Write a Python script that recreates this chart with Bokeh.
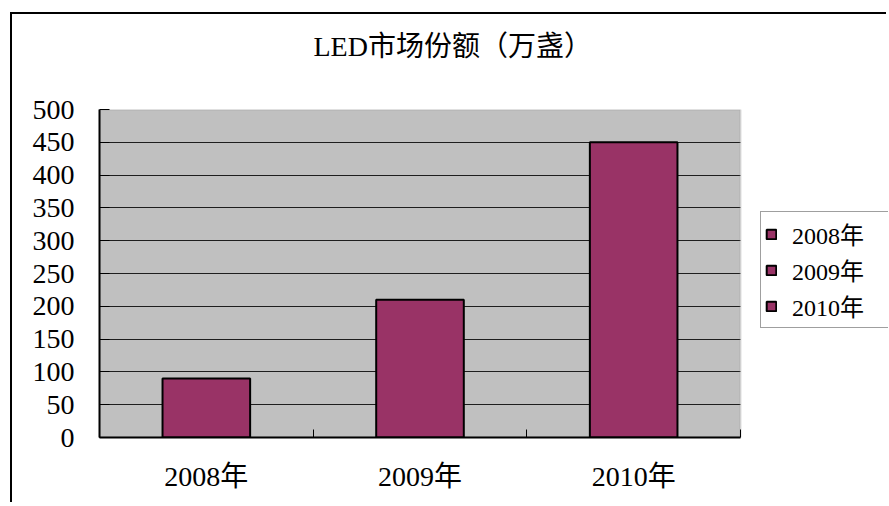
from bokeh.plotting import figure
from bokeh.models import (Range1d, FixedTicker, Legend, LegendItem, ColumnDataSource,
                          BoxAnnotation, Title)
from bokeh.embed import file_html
from bokeh.resources import INLINE

# ---- data ----
categories = ["2008年", "2009年", "2010年"]
values = [90, 210, 450]
y_ticks = [0, 50, 100, 150, 200, 250, 300, 350, 400, 450, 500]
title_text = "LED市场份额（万盏）"

FONT = "Liberation Serif, Noto Sans CJK SC"
BAR = "#993366"

n = len(categories)
xpos = [i + 0.5 for i in range(n)]
boundaries = list(range(n + 1))

# layout geometry (pixels)
W, H = 876, 490
FL, FT, FB = 87, 95, 67          # frame left / top / bottom borders
PLOT_W = 641                      # width of the grey plot area
frame_w = W - FL
x_end = n * frame_w / PLOT_W      # frame extends past the plot area to hold the legend

p = figure(width=W, height=H, output_backend="svg", toolbar_location=None,
           x_range=Range1d(0, x_end), y_range=Range1d(0, 500),
           min_border_left=FL, min_border_right=0, min_border_top=FT,
           min_border_bottom=FB)
p.margin = (12, 0, 0, 10)
p.styles = {"border-top": "2px solid #000", "border-left": "2px solid #000"}

p.background_fill_color = "white"
p.border_fill_color = "white"
p.outline_line_color = None

# grey plot area
p.add_layout(BoxAnnotation(left=0, right=n, bottom=0, top=500,
                           fill_color="#C0C0C0", fill_alpha=1,
                           line_color=None, level="image"))
p.xgrid.visible = False
p.ygrid.ticker = FixedTicker(ticks=y_ticks)
p.ygrid.grid_line_color = "#1e1e1e"
p.ygrid.grid_line_width = 1
# white mask to the right of the plot area (hides grid lines there)
p.add_layout(BoxAnnotation(left=n, fill_color="white", fill_alpha=1,
                           line_color=None, level="underlay"))
# grey border of the plot area
p.add_layout(BoxAnnotation(left=0, right=n, bottom=0, top=500,
                           fill_alpha=0, line_color="#8a8a8a", line_width=2,
                           level="underlay"))

# titles: spacer (closest to frame) then the real title
p.add_layout(Title(text=" ", text_font_size="1px", standoff=45), "above")
p.add_layout(Title(text=title_text, align="left", offset=214, standoff=0,
                   text_font=FONT, text_font_size="28px", text_font_style="normal",
                   text_color="black"), "above")

# bars
renderers = []
for i, v in enumerate(values):
    src = ColumnDataSource(dict(x=[xpos[i]], top=[v]))
    r = p.vbar(x="x", top="top", width=0.41, bottom=0, source=src,
               fill_color=BAR, line_color="black", line_width=2)
    renderers.append(r)

# axes
p.yaxis.ticker = FixedTicker(ticks=y_ticks)
p.yaxis.axis_line_color = "black"
p.yaxis.axis_line_width = 2
p.yaxis.major_tick_in = 10
p.yaxis.major_tick_out = 0
p.yaxis.major_tick_line_color = "black"
p.yaxis.minor_tick_line_color = None
p.yaxis.major_label_standoff = 25
p.yaxis.major_label_text_font = FONT
p.yaxis.major_label_text_font_size = "28px"
p.yaxis.major_label_text_color = "black"

p.xaxis.bounds = (0, n)
p.xaxis.ticker = FixedTicker(ticks=xpos, minor_ticks=boundaries)
p.xaxis.major_label_overrides = {x: c for x, c in zip(xpos, categories)}
p.xaxis.axis_line_color = "black"
p.xaxis.axis_line_width = 2
p.xaxis.major_tick_line_color = None
p.xaxis.minor_tick_in = 8
p.xaxis.minor_tick_out = 0
p.xaxis.minor_tick_line_color = "black"
p.xaxis.minor_tick_line_width = 1
p.xaxis.major_label_standoff = 17
p.xaxis.major_label_text_font = FONT
p.xaxis.major_label_text_font_size = "28px"
p.xaxis.major_label_text_color = "black"

legend = Legend(items=[LegendItem(label=c, renderers=[r], index=0)
                       for c, r in zip(categories, renderers)],
                location=(661, 109))
legend.glyph_width = 12
legend.glyph_height = 12
legend.label_standoff = 15
legend.label_width = 110
legend.spacing = 1
legend.padding = 4
legend.margin = 0
legend.label_text_font = FONT
legend.label_text_font_size = "24px"
legend.label_text_color = "black"
legend.border_line_color = "#404040"
legend.border_line_width = 1
legend.background_fill_color = "white"
legend.background_fill_alpha = 1
p.add_layout(legend)

open("out.html", "w").write(file_html(p, INLINE))
